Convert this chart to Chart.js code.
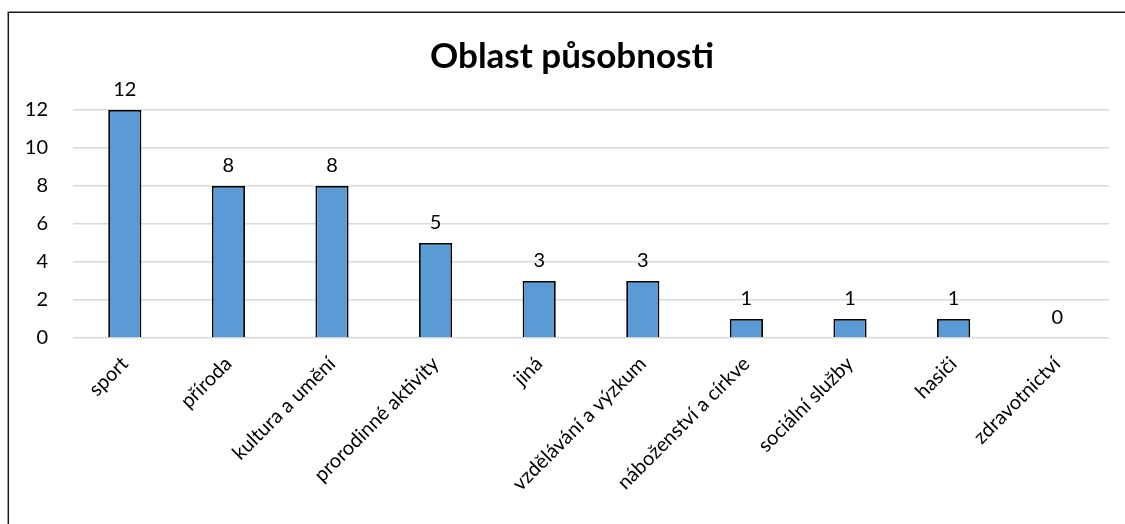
<!DOCTYPE html>
<html>
<head>
<meta charset="utf-8">
<script src="https://cdn.jsdelivr.net/npm/chart.js@4/dist/chart.umd.min.js"></script>
<style>
  html, body { margin: 0; padding: 0; background: #fff; }
  canvas { display: block; }
</style>
</head>
<body>
<canvas id="chart" width="1125" height="524"></canvas>
<script>
const chartTitle = 'Oblast působnosti';
const categories = ['sport', 'příroda', 'kultura a umění', 'prorodinné aktivity', 'jiná',
  'vzdělávání a výzkum', 'náboženství a církve', 'sociální služby', 'hasiči', 'zdravotnictví'];
const counts = [12, 8, 8, 5, 3, 3, 1, 1, 1, 0];
const yTicks = [0, 2, 4, 6, 8, 10, 12];

const FONT = 'Lato, "Open Sans", sans-serif';

// frame around the chart (only left and top edges visible in the crop),
// plus the title, which is centred on the frame rather than on the plot
const framePlugin = {
  id: 'frame',
  beforeDraw(chart) {
    const ctx = chart.ctx;
    ctx.save();
    ctx.strokeStyle = '#1a1a1a';
    ctx.lineWidth = 1.5;
    ctx.beginPath();
    ctx.moveTo(8.3, chart.height);
    ctx.lineTo(8.3, 12.3);
    ctx.lineTo(chart.width, 12.3);
    ctx.stroke();

    ctx.font = 'bold 35px ' + FONT;
    ctx.fillStyle = '#000';
    ctx.textAlign = 'center';
    ctx.textBaseline = 'middle';
    ctx.fillText(chartTitle, 572, 57);
    ctx.restore();
  }
};

// value labels above each bar
const valueLabels = {
  id: 'valueLabels',
  afterDatasetsDraw(chart) {
    const ctx = chart.ctx;
    const meta = chart.getDatasetMeta(0);
    ctx.save();
    ctx.font = '20px ' + FONT;
    ctx.fillStyle = '#000';
    ctx.textAlign = 'center';
    ctx.textBaseline = 'bottom';
    meta.data.forEach((bar, i) => {
      ctx.fillText(String(counts[i]), bar.x, bar.y - 10);
    });
    ctx.restore();
  }
};

new Chart(document.getElementById('chart'), {
  type: 'bar',
  data: {
    labels: categories,
    datasets: [{
      data: counts,
      backgroundColor: '#5b9bd5',
      borderColor: '#000',
      borderWidth: 1.8,
      barPercentage: 0.32,
      categoryPercentage: 1,
    }]
  },
  options: {
    responsive: false,
    animation: false,
    layout: {
      padding: { top: 110, right: 16, bottom: 0, left: 0 },
    },
    plugins: {
      legend: { display: false },
      tooltip: { enabled: false },
      title: { display: false },
    },
    scales: {
      x: {
        grid: { display: false },
        border: { display: false },
        ticks: {
          color: '#000',
          font: { family: FONT, size: 20 },
          minRotation: 45,
          maxRotation: 45,
          padding: 6,
          autoSkip: false,
        },
        afterFit(scale) { scale.height = 186; },
      },
      y: {
        min: 0,
        max: 12,
        afterBuildTicks(scale) { scale.ticks = yTicks.map(v => ({ value: v })); },
        grid: { color: '#d9d9d9', lineWidth: 1.5, drawTicks: false },
        border: { display: false },
        ticks: {
          color: '#000',
          font: { family: FONT, size: 20 },
          padding: 25,
        },
        afterFit(scale) { scale.width = 73; },
      },
    },
  },
  plugins: [framePlugin, valueLabels],
});
</script>
</body>
</html>
